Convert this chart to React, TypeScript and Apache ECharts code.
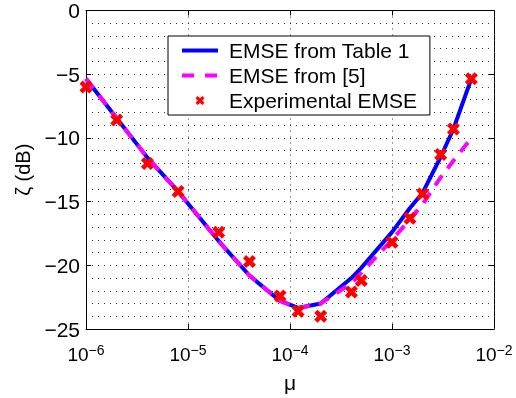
import { useEffect, useRef } from 'react';
import * as echarts from 'echarts';

// step sizes mu
const MU = [1e-6, 2e-6, 4e-6, 8e-6, 2e-5, 4e-5, 8e-5, 1.2e-4, 2e-4, 4e-4, 5e-4, 1e-3, 1.5e-3, 2e-3, 3e-3, 4e-3, 6e-3];
// EMSE from Table 1 (dB)
const TABLE1 = [-5.35, -8.45, -11.55, -14.2, -18.1, -20.8, -22.8, -23.35, -23.0, -21.0, -20.2, -17.4, -15.5, -14.3, -11.5, -9.3, -5.35];
// EMSE from [5] (dB)
const REF5 = [-5.35, -8.45, -11.55, -14.2, -18.1, -20.8, -22.8, -23.35, -23.0, -21.4, -20.6, -18.0, -16.4, -15.2, -13.1, -11.8, -10.0];
// Experimental EMSE (dB)
const EXPER = [-6.0, -8.6, -12.0, -14.2, -17.4, -19.7, -22.4, -23.6, -24.0, -22.1, -21.2, -18.2, -16.3, -14.4, -11.3, -9.3, -5.35];

const SERIES_NAMES = ['EMSE from Table 1', 'EMSE from [5]', 'Experimental EMSE'];
const X_MIN = 1e-6;
const X_MAX = 1e-2;
const Y_MIN = -25;
const Y_MAX = 0;
const Y_STEP = 5;
const MINOR_MULTIPLIERS = [2, 3, 4, 5, 6, 7, 8, 9];
const MINOR_DECADES = [-6, -5, -4, -3];

const MINUS = '\u2212';
const FONT = 'Liberation Sans, Arial, Helvetica, sans-serif';
const X_SYMBOL = 'path://M0 2.5L2.5 0L5 2.5L7.5 0L10 2.5L7.5 5L10 7.5L7.5 10L5 7.5L2.5 10L0 7.5L2.5 5Z';

export default function App() {
  const ref = useRef<HTMLDivElement>(null);
  useEffect(() => {
    const chart = echarts.init(ref.current!, null, { renderer: 'svg' });
    const xMinor: number[] = [];
    MINOR_DECADES.forEach((n) => MINOR_MULTIPLIERS.forEach((k) => xMinor.push(k * Math.pow(10, n))));
    const dotted = { color: '#333', width: 1, type: [1, 5] as number[] };
    const axisLine = { show: true, onZero: false, lineStyle: { color: '#000', width: 1 } };
    const tick = { show: true, inside: true, length: 5, lineStyle: { color: '#000', width: 1 } };
    chart.setOption({
      animation: false,
      textStyle: { fontFamily: FONT },
      grid: { left: 86, top: 8, right: 22, bottom: 68, show: false },
      xAxis: [
        {
          type: 'log', logBase: 10, min: X_MIN, max: X_MAX, splitNumber: 4, position: 'bottom',
          axisLine, axisTick: tick,
          axisLabel: {
            margin: 14,
            formatter: (v: number) => {
              const e = Math.round(Math.log10(v));
              return `{b|10}{e|${e < 0 ? MINUS : ''}${Math.abs(e)}}`;
            },
            rich: {
              b: { fontSize: 19, fontFamily: FONT, color: '#000', lineHeight: 23 },
              e: { fontSize: 14, fontFamily: FONT, color: '#000', lineHeight: 4, verticalAlign: 'top' },
            },
          },
          splitLine: { show: true, lineStyle: dotted },
          name: 'μ', nameLocation: 'middle', nameGap: 43,
          nameTextStyle: { fontSize: 21, color: '#000', fontFamily: FONT },
        },
        {
          type: 'log', logBase: 10, min: X_MIN, max: X_MAX, splitNumber: 4, position: 'top',
          axisLine, axisTick: tick, axisLabel: { show: false }, splitLine: { show: false },
        },
      ],
      yAxis: [
        {
          type: 'value', min: Y_MIN, max: Y_MAX, interval: Y_STEP, position: 'left',
          axisLine, axisTick: tick,
          axisLabel: {
            margin: 6, fontSize: 21, color: '#000', fontFamily: FONT,
            formatter: (v: number) => (v < 0 ? MINUS + Math.abs(v) : String(v)),
          },
          splitLine: { show: true, lineStyle: dotted },
          minorTick: { show: false, splitNumber: 5 },
          minorSplitLine: { show: true, lineStyle: dotted },
          name: 'ζ (dB)', nameLocation: 'middle', nameGap: 52, nameRotate: 90,
          nameTextStyle: { fontSize: 20, color: '#000', fontFamily: FONT },
        },
        {
          type: 'value', min: Y_MIN, max: Y_MAX, interval: Y_STEP, position: 'right',
          axisLine, axisTick: tick, axisLabel: { show: false }, splitLine: { show: false },
        },
      ],
      legend: {
        orient: 'vertical', left: 168, top: 36,
        padding: [4, 13, 4, 12], itemGap: 4, itemWidth: 36, itemHeight: 9,
        borderColor: '#000', borderWidth: 1, borderRadius: 0, backgroundColor: '#fff',
        textStyle: { fontSize: 21, color: '#000', fontFamily: FONT, lineHeight: 21, padding: [0, 0, 0, 6] },
        data: [
          { name: SERIES_NAMES[0], itemStyle: { opacity: 0 }, lineStyle: { width: 4, color: '#0000ff', type: 'solid' } },
          { name: SERIES_NAMES[1], itemStyle: { opacity: 0 }, lineStyle: { width: 4, color: '#ff00ff', type: [12, 11] } },
          { name: SERIES_NAMES[2], itemStyle: { opacity: 1 } },
        ],
      },
      series: [
        {
          type: 'line', data: [], silent: true, z: 1,
          markLine: {
            silent: true, symbol: ['none', 'none'], label: { show: false },
            lineStyle: dotted, animation: false,
            data: xMinor.map((x) => ({ xAxis: x })),
          },
        },
        {
          name: SERIES_NAMES[0], type: 'line', symbol: 'none', z: 3,
          data: MU.map((m, i) => [m, TABLE1[i]]),
          lineStyle: { color: '#0000ff', width: 4 }, itemStyle: { color: '#0000ff' },
        },
        {
          name: SERIES_NAMES[1], type: 'line', symbol: 'none', z: 4,
          data: MU.map((m, i) => [m, REF5[i]]),
          lineStyle: { color: '#ff00ff', width: 4, type: [12, 9] }, itemStyle: { color: '#ff00ff' },
        },
        {
          name: SERIES_NAMES[2], type: 'scatter', symbol: X_SYMBOL, symbolSize: 13, z: 5,
          data: MU.map((m, i) => [m, EXPER[i]]),
          itemStyle: { color: '#ff0000', opacity: 1 },
        },
      ],
    });
    return () => chart.dispose();
  }, []);
  return <div ref={ref} style={{ position: 'fixed', left: 0, top: 0, width: 516, height: 398 }} />;
}
